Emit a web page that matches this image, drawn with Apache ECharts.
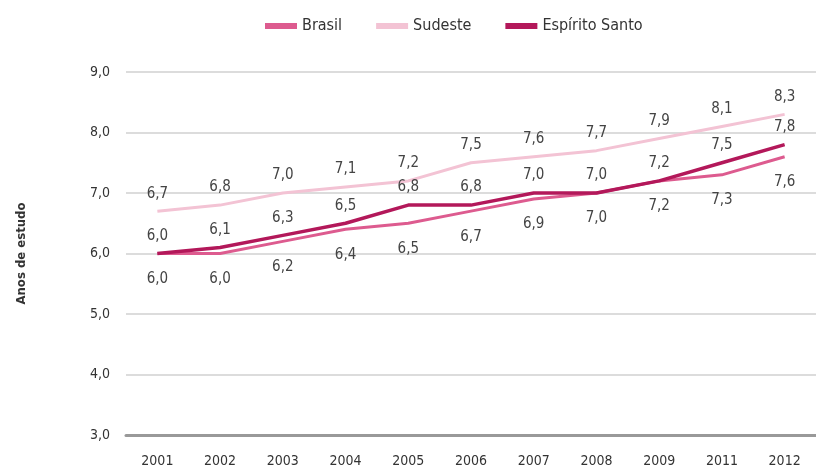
<!DOCTYPE html>
<html><head><meta charset="utf-8">
<script src="https://cdn.jsdelivr.net/npm/echarts@6/dist/echarts.min.js"></script>
<style>html,body{margin:0;padding:0;background:#fff}#c{width:816px;height:468px}</style>
</head><body><div id="c"></div>
<script>
const years = ['2001','2002','2003','2004','2005','2006','2007','2008','2009','2011','2012'];
const brasil = [6.0,6.0,6.2,6.4,6.5,6.7,6.9,7.0,7.2,7.3,7.6];
const sudeste = [6.7,6.8,7.0,7.1,7.2,7.5,7.6,7.7,7.9,8.1,8.3];
const espiritoSanto = [6.0,6.1,6.3,6.5,6.8,6.8,7.0,7.0,7.2,7.5,7.8];

const FONT = '"Liberation Sans Narrow","DejaVu Sans Condensed","Open Sans",sans-serif';
const fmt = v => Number(v).toFixed(1).replace('.', ',');
const chart = echarts.init(document.getElementById('c'));
const lbl = (pos, dist) => ({show:true, position:pos, distance:dist, color:'#444', fontSize:15, fontFamily:FONT, formatter:p=>fmt(p.value)});
const mk = (name, data, color, width, label, z) => ({
  name, type:'line', data, color, symbol:'circle', symbolSize:0.01, showSymbol:true,
  itemStyle:{color}, lineStyle:{width, color}, label, z, emphasis:{disabled:true}
});
chart.setOption({
  animation:false,
  textStyle:{fontFamily:FONT},
  legend:{left:260, top:13, icon:'rect', itemWidth:32, itemHeight:6, itemGap:34,
    textStyle:{color:'#333', fontSize:16, fontFamily:FONT},
    data:['Brasil','Sudeste','Espírito Santo']},
  grid:{left:126, right:-9, top:72, bottom:33},
  xAxis:{type:'category', data:years, boundaryGap:true,
    axisLine:{lineStyle:{color:'#999', width:3}}, axisTick:{show:false},
    axisLabel:{color:'#333', fontSize:14, fontFamily:FONT, margin:19}},
  yAxis:{type:'value', min:3, max:9, interval:1,
    name:'Anos de estudo', nameLocation:'middle', nameGap:98,
    nameTextStyle:{color:'#333', fontSize:13, fontWeight:'bold', fontFamily:FONT},
    axisLine:{show:false}, axisTick:{show:false},
    axisLabel:{color:'#333', fontSize:14, fontFamily:FONT, margin:16, formatter:v=>fmt(v)},
    splitLine:{lineStyle:{color:'#dcdcdc', width:2}}},
  series:[
    mk('Brasil', brasil, '#dd5b8f', 3, lbl('bottom',18), 3),
    mk('Sudeste', sudeste, '#f3c3d4', 3, lbl('top',10), 2),
    mk('Espírito Santo', espiritoSanto, '#b3185a', 3.5, lbl('top',10), 4)
  ]
});
</script></body></html>
